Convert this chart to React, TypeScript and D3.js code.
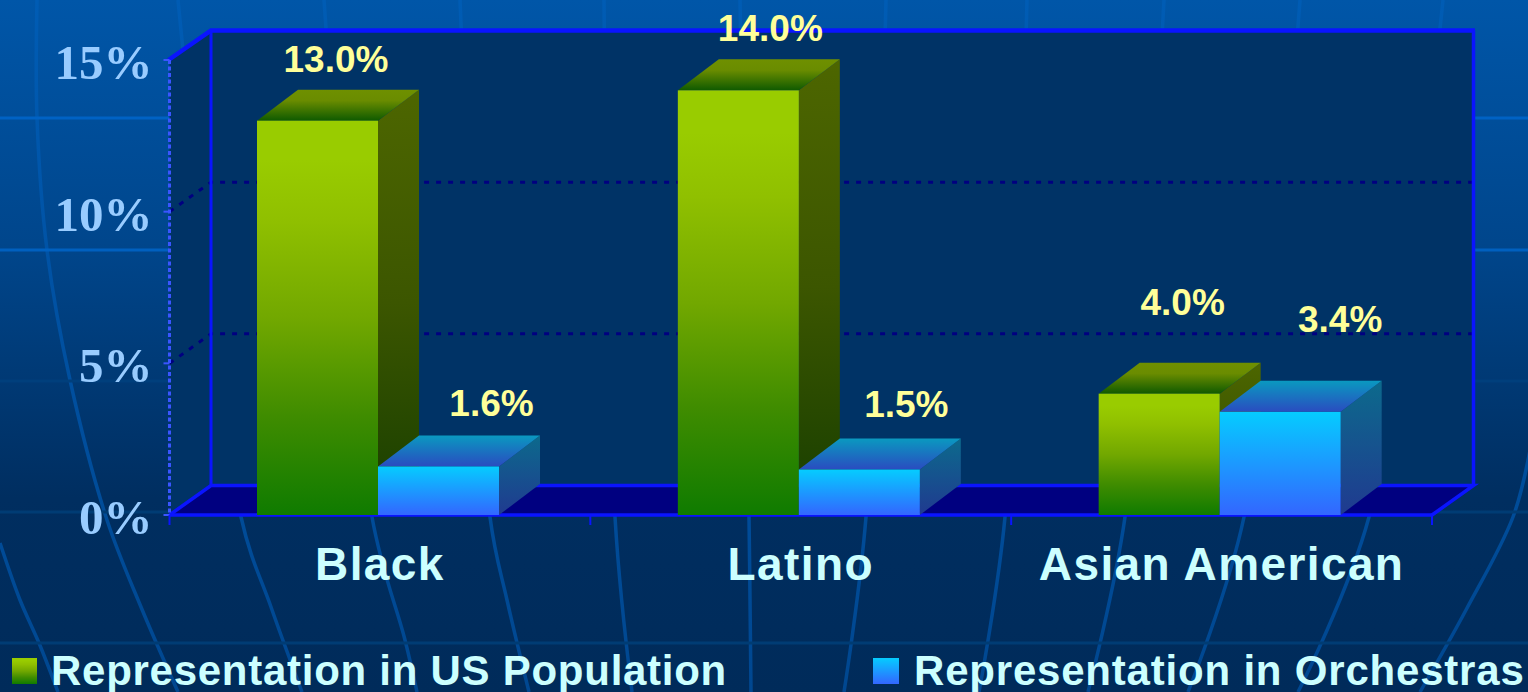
import React from "react";
import * as d3 from "d3";

const W = 1528, H = 692;
const categories = ["Black", "Latino", "Asian American"];
const seriesNames = ["Representation in US Population", "Representation in Orchestras"];
const populationValues = [13.0, 14.0, 4.0];
const orchestraValues = [1.6, 1.5, 3.4];
const valueTicks = [0, 5, 10, 15];

// label placement relative to the front-top centre of each bar [dx, dy]
const populationNudge = [[18.5, -49], [32, -49], [23.5, -79]];
const orchestraNudge = [[53, -50], [47, -53], [60, -80]];

// decorative background meridians
const meridians: number[][][] = [
  [[0, 543], [20, 600], [39, 643], [58, 692]],
  [[37, 0], [37, 118], [47, 250], [70, 380], [107, 520], [141, 607], [178, 692]],
  [[178, 0], [241, 517], [271, 607], [302, 692]],
  [[324, 0], [372, 517], [405, 640], [417, 692]],
  [[460, 0], [490, 517], [507, 600], [529, 692]],
  [[604, 0], [615, 517], [632, 692]],
  [[740, 0], [749, 517], [751, 692]],
  [[886, 0], [866, 517], [844, 692]],
  [[1027, 0], [1005, 517], [979, 692]],
  [[1164, 0], [1125, 517], [1088, 692]],
  [[1300, 0], [1244, 517], [1188, 692]],
  [[1443, 0], [1369, 517], [1298, 692]],
  [[1530, 450], [1513, 517], [1466, 610], [1420, 692]],
];
const parallels = [118, 250, 381, 512, 643];
const parallelColors = ["#0062c4", "#0060bf", "#003f7c", "#003c74", "#003c74"];

const WALL_DX = 41.5, WALL_DY = -29.5;
const BAR_DX = 41, BAR_DY = -31;
const y = d3.scaleLinear().domain([0, 15]).range([515, 60]);
const x0 = d3.scaleBand<string>().domain(categories).range([169.5, 1432]);
const barLeftPad = 87.5;
const x1 = d3.scaleBand<string>().domain(seriesNames).range([0, 242]);

const meridianPath = d3.line().curve(d3.curveCatmullRom.alpha(0.5));
const poly = (pts: number[][]) => "M" + pts.map((p) => p.join(",")).join("L") + "Z";

const BLUE = "#0a14ff";
const SANS = "'Liberation Sans', Arial, sans-serif";
const SERIF = "'Liberation Serif', 'Times New Roman', serif";

function Grad({ id, stops }: { id: string; stops: [number, string][] }) {
  return (
    <linearGradient id={id} x1="0" y1="0" x2="0" y2="1">
      {stops.map(([o, c]) => (
        <stop key={o} offset={o} stopColor={c} />
      ))}
    </linearGradient>
  );
}

function Bar({ left, value, s }: { left: number; value: number; s: string }) {
  const w = x1.bandwidth();
  const top = y(value), base = y(0);
  return (
    <g>
      <path d={poly([[left + w, top], [left + w + BAR_DX, top + BAR_DY], [left + w + BAR_DX, base + BAR_DY], [left + w, base]])} fill={`url(#${s}Side)`} />
      <path d={poly([[left, top], [left + BAR_DX, top + BAR_DY], [left + w + BAR_DX, top + BAR_DY], [left + w, top]])} fill={`url(#${s}Top)`} />
      <rect x={left} y={top} width={w} height={base - top} fill={`url(#${s}Front)`} />
    </g>
  );
}

export default function App() {
  const barsLeft = (cat: string, name: string) => (x0(cat) as number) + barLeftPad + (x1(name) as number);
  const xL = x0.range()[0], xR = x0.range()[1];
  const yTop = y(15), yBase = y(0);
  const w = x1.bandwidth();
  const labelStyle = { fontFamily: SANS, fontWeight: 700, fontSize: 37, fill: "#ffff99", textAnchor: "middle" as const };
  return (
    <svg width={W} height={H} viewBox={`0 0 ${W} ${H}`} style={{ position: "absolute", left: 0, top: 0, display: "block" }}>
      <defs>
        <linearGradient id="bg" x1="0" y1="0" x2="0" y2="1">
          <stop offset="0" stopColor="#0056a8" />
          <stop offset="0.35" stopColor="#00468c" />
          <stop offset="0.72" stopColor="#002e60" />
          <stop offset="1" stopColor="#002b5a" />
        </linearGradient>
        <linearGradient id="mer" gradientUnits="userSpaceOnUse" x1="0" y1="0" x2="0" y2="692">
          <stop offset="0" stopColor="#005cb4" />
          <stop offset="0.4" stopColor="#0052a4" />
          <stop offset="1" stopColor="#004790" />
        </linearGradient>
        <Grad id="popFront" stops={[[0, "#99cc00"], [0.1, "#99cc00"], [0.25, "#90c000"], [0.5, "#72a800"], [0.75, "#3f8c00"], [1, "#0f7b00"]]} />
        <Grad id="popTop" stops={[[0, "#6f9000"], [0.35, "#6a8c00"], [1, "#0f5a00"]]} />
        <Grad id="popSide" stops={[[0, "#4d6600"], [0.5, "#3c5600"], [1, "#173e00"]]} />
        <Grad id="orchFront" stops={[[0, "#05ccff"], [1, "#3366ff"]]} />
        <Grad id="orchTop" stops={[[0, "#0a99c0"], [1, "#2a4cc0"]]} />
        <Grad id="orchSide" stops={[[0, "#0c6a8c"], [1, "#203a90"]]} />
      </defs>

      <rect width={W} height={H} fill="url(#bg)" />
      {meridians.map((m, i) => (
        <path key={i} d={meridianPath(m as [number, number][]) as string} fill="none" stroke="url(#mer)" strokeWidth={3.5} />
      ))}
      {parallels.map((p, i) => (
        <line key={p} x1={0} x2={W} y1={p} y2={p} stroke={parallelColors[i]} strokeWidth={3} />
      ))}

      {/* walls and floor */}
      <path d={poly([[xL, yTop], [xL + WALL_DX, yTop + WALL_DY], [xR + WALL_DX, yTop + WALL_DY], [xR + WALL_DX, yBase + WALL_DY], [xL, yBase]])} fill="#003366" />
      <path d={poly([[xL, yBase], [xL + WALL_DX, yBase + WALL_DY], [xR + WALL_DX, yBase + WALL_DY], [xR, yBase]])} fill="#000080" />

      {valueTicks.filter((t) => t > 0 && t < 15).map((t) => (
        <path key={t} d={`M${xL},${y(t)}L${xL + WALL_DX},${y(t) + WALL_DY}L${xR + WALL_DX},${y(t) + WALL_DY}`} fill="none" stroke="#000080" strokeWidth={3} strokeDasharray="5 7" />
      ))}

      <path d={`M${xL + WALL_DX},${yTop + WALL_DY}V${yBase + WALL_DY}`} stroke={BLUE} strokeWidth={3} fill="none" />
      <path d={`M${xR + WALL_DX},${yTop + WALL_DY}V${yBase + WALL_DY}`} stroke={BLUE} strokeWidth={3.5} fill="none" />
      <path d={`M${xL - 1},${yTop}L${xL + WALL_DX},${yTop + WALL_DY}H${xR + WALL_DX + 1.5}`} stroke={BLUE} strokeWidth={4.5} fill="none" />
      <path d={`M${xL},${yBase}L${xL + WALL_DX},${yBase + WALL_DY}H${xR + WALL_DX}L${xR},${yBase}`} stroke={BLUE} strokeWidth={3.5} fill="none" />
      <line x1={xL} x2={xL} y1={yTop} y2={yBase} stroke="#3a55ff" strokeWidth={3} strokeDasharray="4 2.5" />
      <line x1={xL} x2={xR} y1={yBase} y2={yBase} stroke={BLUE} strokeWidth={3.5} />

      {valueTicks.map((t) => (
        <line key={t} x1={xL - 6} x2={xL} y1={y(t)} y2={y(t)} stroke="#3a55ff" strokeWidth={2} />
      ))}
      {[...categories.map((c) => x0(c) as number), xR].map((tx, i) => (
        <line key={i} x1={tx} x2={tx} y1={yBase} y2={yBase + 10} stroke={BLUE} strokeWidth={2} />
      ))}

      {/* bars */}
      {categories.map((c, i) => (
        <g key={c}>
          <Bar left={barsLeft(c, seriesNames[0])} value={populationValues[i]} s="pop" />
          <Bar left={barsLeft(c, seriesNames[1])} value={orchestraValues[i]} s="orch" />
        </g>
      ))}

      {/* value labels */}
      {categories.map((c, i) => (
        <g key={c}>
          <text x={barsLeft(c, seriesNames[0]) + w / 2 + populationNudge[i][0]} y={y(populationValues[i]) + populationNudge[i][1]} style={labelStyle}>
            {populationValues[i].toFixed(1)}%
          </text>
          <text x={barsLeft(c, seriesNames[1]) + w / 2 + orchestraNudge[i][0]} y={y(orchestraValues[i]) + orchestraNudge[i][1]} style={labelStyle}>
            {orchestraValues[i].toFixed(1)}%
          </text>
        </g>
      ))}

      {/* value axis labels */}
      {valueTicks.map((t) => (
        <text key={t} x={152.5} y={y(t) + 19} textAnchor="end" fontFamily={SERIF} fontWeight={700} fontSize={49} fill="#99ccff">
          {t}%
        </text>
      ))}

      {/* category labels */}
      {categories.map((c) => (
        <text key={c} x={(x0(c) as number) + x0.bandwidth() / 2} y={580} textAnchor="middle" fontFamily={SANS} fontWeight={700} fontSize={46} letterSpacing={1.4} fill="#ccffff">
          {c}
        </text>
      ))}

      {/* legend */}
      <rect x={12} y={658} width={25} height={26} fill="url(#popFront)" />
      <text x={51} y={685} fontFamily={SANS} fontWeight={700} fontSize={42} letterSpacing={0.73} fill="#ccffff">{seriesNames[0]}</text>
      <rect x={873} y={658} width={26} height={26} fill="url(#orchFront)" />
      <text x={914} y={685} fontFamily={SANS} fontWeight={700} fontSize={42} letterSpacing={0.8} fill="#ccffff">{seriesNames[1]}</text>
    </svg>
  );
}
